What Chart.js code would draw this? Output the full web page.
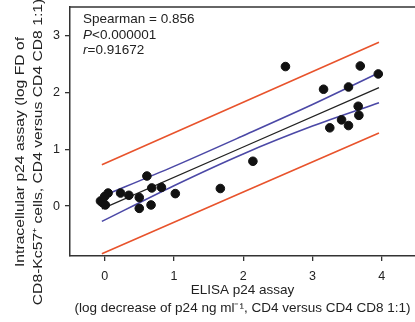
<!DOCTYPE html>
<html>
<head>
<meta charset="utf-8">
<script src="https://cdn.jsdelivr.net/npm/chart.js@4.4.1/dist/chart.umd.min.js"></script>
<style>
  html, body { margin: 0; padding: 0; background: #fff; }
  #wrap { width: 415px; height: 322px; position: relative; }
</style>
</head>
<body>
<div id="wrap"><canvas id="corrChart"></canvas></div>
<script>
// Points: ELISA p24 (x) vs intracellular p24 (y)
const elisaX = [-0.06, -0.03, 0.01, 0.05, 0.00, 0.23, 0.35, 0.50, 0.50, 0.61, 0.67, 0.68, 0.82, 1.02,
                1.67, 2.14, 2.61, 3.16, 3.25, 3.42, 3.52, 3.52, 3.66, 3.67, 3.69, 3.95];
const intraY = [0.09, 0.06, 0.02, 0.23, 0.17, 0.23, 0.19, 0.15, -0.04, 0.53, 0.02, 0.32, 0.33, 0.22,
                0.31, 0.79, 2.46, 2.06, 1.38, 1.52, 1.42, 2.10, 1.76, 1.60, 2.47, 2.33];

// Regression line and bands, read at a few x positions
const fitX = [-0.04, 3.96];
const fitY = [-0.05, 2.09];
const ciX = [-0.04, 1.0, 2.0, 3.0, 3.96];
const ciUpper = [0.17, 0.70, 1.24, 1.79, 2.35];
const ciLower = [-0.27, 0.36, 0.92, 1.41, 1.82];
const predX = [-0.04, 3.96];
const predUpper = [0.73, 2.89];
const predLower = [-0.84, 1.29];

const xTicks = [0, 1, 2, 3, 4];
const yTicks = [0, 1, 2, 3];

const xTitle = ['ELISA p24 assay', '(log decrease of p24 ng ml\u207B\u00B9, CD4 versus CD4 CD8 1:1)'];
const yTitle = ['Intracellular p24 assay (log FD of', 'CD8-Kc57\u207A cells, CD4 versus CD4 CD8 1:1)'];

const FONT = "'Liberation Sans', Arial, Helvetica, sans-serif";

function pairs(xs, ys) {
    return xs.map((x, i) => ({ x: x, y: ys[i] }));
}

function lineSet(xs, ys, color, width) {
    return {
        type: 'line',
        data: pairs(xs, ys),
        borderColor: color,
        borderWidth: width,
        pointRadius: 0,
        fill: false,
        tension: 0.3
    };
}

// top frame line, y title and stats text
const extras = {
    id: 'extras',
    afterDraw(chart) {
        const ctx = chart.ctx;
        const a = chart.chartArea;
        ctx.save();
        ctx.strokeStyle = '#333';
        ctx.lineWidth = 1.5;
        ctx.beginPath();
        ctx.moveTo(a.left, a.top);
        ctx.lineTo(a.right, a.top);
        ctx.stroke();

        // the y title is stretched along its length in the original figure
        ctx.fillStyle = '#222';
        ctx.font = '12.5px ' + FONT;
        ctx.textAlign = 'center';
        ctx.textBaseline = 'middle';
        const stretch = 230 / ctx.measureText(yTitle[0]).width;
        ctx.translate(21, 152);
        ctx.rotate(-Math.PI / 2);
        ctx.scale(stretch, 1);
        ctx.fillText(yTitle[0], 0, 0);
        ctx.fillText(yTitle[1], 0, 18);
        ctx.restore();

        ctx.save();
        ctx.fillStyle = '#222';
        ctx.textBaseline = 'alphabetic';
        ctx.textAlign = 'left';
        const x0 = a.left + 13;
        ctx.font = '13.5px ' + FONT;
        ctx.fillText('Spearman = 0.856', x0, a.top + 16);
        ctx.font = 'italic 13.5px ' + FONT;
        ctx.fillText('P', x0, a.top + 31.5);
        let w = ctx.measureText('P').width;
        ctx.font = '13.5px ' + FONT;
        ctx.fillText('<0.000001', x0 + w, a.top + 31.5);
        ctx.font = 'italic 13.5px ' + FONT;
        ctx.fillText('r', x0, a.top + 47);
        w = ctx.measureText('r').width;
        ctx.font = '13.5px ' + FONT;
        ctx.fillText('=0.91672', x0 + w, a.top + 47);
        ctx.restore();
    }
};

new Chart(document.getElementById('corrChart'), {
    type: 'scatter',
    data: {
        datasets: [
            {
                type: 'scatter',
                data: pairs(elisaX, intraY),
                backgroundColor: '#111',
                borderColor: '#111',
                pointRadius: 4.3,
                pointHoverRadius: 4.3
            },
            lineSet(fitX, fitY, '#222', 1.3),
            lineSet(ciX, ciUpper, '#4b48a6', 1.6),
            lineSet(ciX, ciLower, '#4b48a6', 1.6),
            lineSet(predX, predUpper, '#e8532c', 1.6),
            lineSet(predX, predLower, '#e8532c', 1.6)
        ]
    },
    options: {
        responsive: true,
        maintainAspectRatio: false,
        animation: false,
        layout: { autoPadding: false, padding: { top: 7, right: 0, left: 0, bottom: 0 } },
        plugins: {
            legend: { display: false },
            tooltip: { enabled: false }
        },
        scales: {
            x: {
                type: 'linear',
                min: -0.5,
                max: 4.48,
                afterBuildTicks: s => { s.ticks = xTicks.map(v => ({ value: v })); },
                afterFit: s => { s.height = 66; s.paddingLeft = 0; s.paddingRight = 0; },
                grid: { display: true, drawOnChartArea: false, drawTicks: true, tickLength: 5, color: '#333', lineWidth: 1.3 },
                border: { display: true, color: '#333', width: 1.5 },
                ticks: { color: '#222', font: { family: FONT, size: 12.5 }, padding: 8, maxRotation: 0 },
                title: {
                    display: true,
                    text: xTitle,
                    color: '#222',
                    font: { family: FONT, size: 13.5, lineHeight: 1.33 },
                    padding: { top: 0, bottom: 5 }
                }
            },
            y: {
                type: 'linear',
                min: -0.88,
                max: 3.51,
                afterBuildTicks: s => { s.ticks = yTicks.map(v => ({ value: v })); },
                afterFit: s => { s.width = 70; s.paddingTop = 0; s.paddingBottom = 0; },
                grid: { display: true, drawOnChartArea: false, drawTicks: true, tickLength: 5, color: '#333', lineWidth: 1.3 },
                border: { display: true, color: '#333', width: 1.5 },
                ticks: { color: '#222', font: { family: FONT, size: 12.5 }, padding: 5 }
            }
        }
    },
    plugins: [extras]
});
</script>
</body>
</html>
